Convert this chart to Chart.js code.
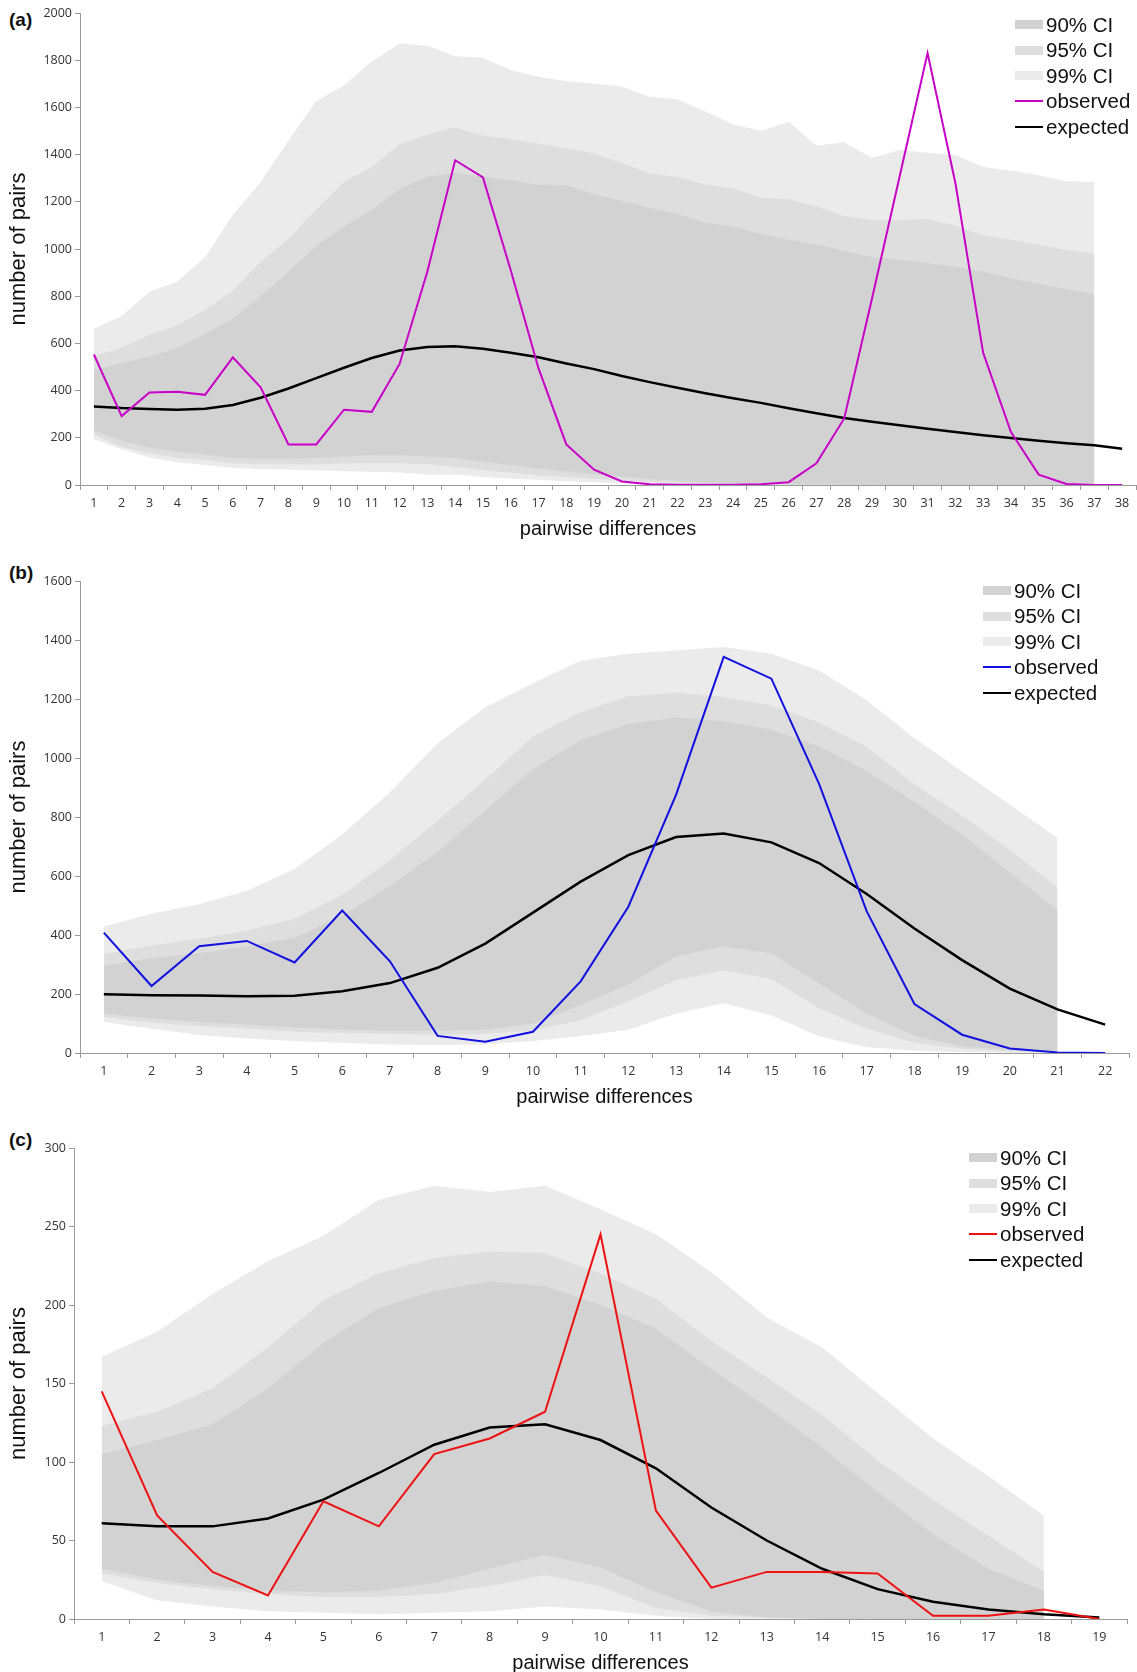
<!DOCTYPE html>
<html>
<head>
<meta charset="utf-8">
<script src="https://cdn.jsdelivr.net/npm/chart.js@4.4.1/dist/chart.umd.min.js"></script>
<style>
    body { margin: 0; width: 1137px; height: 1672px; overflow: hidden; background: #fff; position: relative; }
    canvas { position: absolute; left: 0; }
    .panel-tag { position: absolute; left: 9px; font: bold 19px "Liberation Sans", Arial, sans-serif; color: #111; }
    .legend { position: absolute; font: 20.5px "Liberation Sans", Arial, sans-serif; color: #111; }
    .legend div { height: 25.5px; display: flex; align-items: center; }
    .legend span.sw { display: inline-block; width: 28px; margin-right: 3px; }
</style>
</head>
<body>
<div class="panel-tag" style="top:9px">(a)</div>
<div class="panel-tag" style="top:562px">(b)</div>
<div class="panel-tag" style="top:1129px">(c)</div>
<canvas id="chartA" style="top:0px"></canvas>
<canvas id="chartB" style="top:560px"></canvas>
<canvas id="chartC" style="top:1130px"></canvas>
<div class="legend" id="legendA" style="left:1015px; top:12px"></div>
<div class="legend" id="legendB" style="left:983px; top:578px"></div>
<div class="legend" id="legendC" style="left:969px; top:1145px"></div>
<script>
// (a)
const aLabels = ['1', '2', '3', '4', '5', '6', '7', '8', '9', '10', '11', '12', '13', '14', '15', '16', '17', '18', '19',
    '20', '21', '22', '23', '24', '25', '26', '27', '28', '29', '30', '31', '32', '33', '34', '35', '36', '37', '38'];
const aObserved = [553, 292, 392, 395, 382, 541, 414, 172, 172, 319, 310, 513, 905, 1376, 1303, 910, 494, 172, 65,
    15, 3, 1, 1, 1, 3, 12, 92, 282, 790, 1310, 1830, 1280, 560, 224, 44, 4, 0, 0];
const aExpected = [333, 326, 322, 319, 323, 339, 370, 409, 453, 497, 538, 570, 585, 588, 577, 560, 541, 515, 491,
    462, 436, 412, 389, 368, 348, 325, 304, 284, 268, 253, 238, 225, 211, 199, 187, 177, 168, 154];
const a99Upper = [662, 716, 819, 862, 965, 1145, 1284, 1459, 1627, 1693, 1795, 1871, 1861, 1817, 1810, 1759, 1730, 1712, 1700,
    1689, 1645, 1635, 1583, 1529, 1500, 1539, 1437, 1452, 1386, 1420, 1408, 1398, 1347, 1332, 1313, 1287, 1284];
const a95Upper = [545, 582, 637, 677, 743, 823, 947, 1042, 1167, 1284, 1349, 1444, 1485, 1515, 1481, 1466, 1447, 1426, 1405,
    1364, 1320, 1306, 1273, 1257, 1218, 1211, 1181, 1140, 1123, 1123, 1127, 1097, 1057, 1039, 1018, 996, 981];
const a90Upper = [487, 516, 545, 582, 640, 706, 801, 904, 1013, 1094, 1167, 1254, 1306, 1323, 1306, 1291, 1272, 1269, 1232,
    1203, 1174, 1149, 1111, 1094, 1064, 1039, 1020, 991, 965, 955, 940, 925, 904, 877, 852, 830, 808];
const a90Lower = [231, 187, 158, 140, 129, 114, 111, 111, 114, 121, 126, 126, 121, 114, 99, 85, 70, 58, 45,
    35, 25, 18, 12, 8, 5, 3, 2, 1, 1, 0, 0, 0, 0, 0, 0, 0, 0];
const a95Lower = [213, 161, 136, 114, 107, 92, 88, 88, 88, 92, 92, 92, 88, 77, 63, 53, 41, 34, 26,
    19, 14, 10, 7, 5, 3, 2, 1, 1, 0, 0, 0, 0, 0, 0, 0, 0, 0];
const a99Lower = [194, 151, 117, 96, 85, 73, 67, 66, 63, 58, 56, 53, 44, 44, 34, 26, 22, 16, 12,
    8, 5, 3, 2, 1, 1, 0, 0, 0, 0, 0, 0, 0, 0, 0, 0, 0, 0];

// (b)
const bLabels = ['1', '2', '3', '4', '5', '6', '7', '8', '9', '10', '11', '12', '13', '14', '15', '16', '17', '18', '19',
    '20', '21', '22'];
const bObserved = [408, 227, 362, 380, 307, 483, 311, 58, 38, 72, 243, 496, 875, 1343, 1269, 912, 480, 166, 62, 15, 2, 0];
const bExpected = [199, 196, 195, 192, 194, 209, 237, 289, 371, 476, 581, 671, 732, 744, 714, 644, 539, 422, 315, 218, 148, 96];
const b99Upper = [429, 472, 504, 550, 624, 741, 884, 1050, 1172, 1254, 1330, 1353, 1364, 1376, 1353, 1297, 1196, 1067, 954, 842, 729];
const b95Upper = [336, 364, 387, 414, 455, 536, 653, 787, 927, 1073, 1155, 1209, 1221, 1207, 1178, 1120, 1038, 910, 805, 688, 562];
const b90Upper = [297, 321, 338, 362, 391, 466, 566, 682, 822, 962, 1061, 1114, 1137, 1125, 1096, 1040, 956, 851, 741, 612, 484];
const b90Lower = [134, 117, 105, 96, 87, 79, 76, 76, 79, 99, 163, 233, 327, 362, 338, 236, 134, 58, 23, 9, 3];
const b95Lower = [122, 103, 91, 84, 72, 68, 64, 61, 64, 76, 111, 175, 247, 280, 251, 152, 82, 35, 14, 5, 2];
const b99Lower = [105, 82, 61, 49, 41, 35, 29, 27, 29, 41, 58, 79, 134, 169, 128, 56, 20, 8, 3, 1, 0];

// (c)
const cLabels = ['1', '2', '3', '4', '5', '6', '7', '8', '9', '10', '11', '12', '13', '14', '15', '16', '17', '18', '19'];
const cObserved = [145, 66, 30, 15, 75, 59, 105, 115, 132, 245, 69, 20, 30, 30, 29, 2, 2, 6, 0];
const cExpected = [61, 59, 59, 64, 76, 93, 111, 122, 124, 114, 96, 71, 50, 32, 19, 11, 6, 3, 1];
const c99Upper = [167, 183, 207, 228, 244, 267, 276, 272, 276, 261, 245, 221, 192, 173, 144, 115, 91, 66];
const c95Upper = [123, 132, 147, 173, 203, 220, 230, 234, 233, 220, 204, 177, 154, 130, 101, 76, 53, 30];
const c90Upper = [105, 114, 124, 147, 176, 198, 209, 215, 212, 200, 185, 159, 135, 109, 81, 54, 32, 18];
const c90Lower = [32, 25, 21, 18, 17, 18, 23, 32, 41, 33, 17, 5, 1, 0, 0, 0, 0, 0];
const c95Lower = [29, 23, 19, 16, 14, 14, 16, 21, 28, 21, 7, 2, 1, 0, 0, 0, 0, 0];
const c99Lower = [24, 12, 8, 5, 4, 3, 4, 5, 8, 6, 2, 0, 0, 0, 0, 0, 0, 0];

const legendNames = ['90% CI', '95% CI', '99% CI', 'observed', 'expected'];

const C90 = '#d2d2d2';
const C95 = '#dedede';
const C99 = '#ebebeb';
const AXIS = '#9a9a9a';

function band(label, data, color, target, order) {
    return {
        label: label,
        data: data,
        fill: target === null ? false : { target: target },
        backgroundColor: color,
        borderColor: 'rgba(0,0,0,0)',
        borderWidth: 0,
        pointRadius: 0,
        order: order
    };
}

function renderPanel(id, labels, series, lineColor, yMax, step, leftWidth, padTop, padRight, height) {
    const canvas = document.getElementById(id);
    canvas.width = 1137;
    canvas.height = height;
    const ctx = canvas.getContext('2d');
    const tickFont = { family: 'Open Sans', size: 12.5 };

    new Chart(ctx, {
        type: 'line',
        data: {
            labels: labels,
            datasets: [
                { label: 'observed', data: series.obs, borderColor: lineColor, borderWidth: 2, pointRadius: 0, fill: false, order: 0 },
                { label: 'expected', data: series.exp, borderColor: '#000', borderWidth: 2.5, pointRadius: 0, fill: false, order: 1 },
                band('90% CI', series.u90, C90, 3, 2),
                band('90 low', series.l90, C90, null, 2),
                band('95% CI', series.u95, C95, 5, 3),
                band('95 low', series.l95, C95, null, 3),
                band('99% CI', series.u99, C99, 7, 4),
                band('99 low', series.l99, C99, null, 4)
            ]
        },
        options: {
            responsive: false,
            animation: false,
            layout: { padding: { top: padTop, right: padRight, left: 0, bottom: 0 } },
            plugins: {
                legend: { display: false },
                tooltip: { enabled: false }
            },
            scales: {
                x: {
                    type: 'category',
                    offset: true,
                    grid: { offset: true, drawOnChartArea: false, tickLength: 5, color: AXIS },
                    border: { color: AXIS },
                    ticks: { font: tickFont, color: '#333', padding: 6, maxRotation: 0, autoSkip: false },
                    title: { display: true, text: 'pairwise differences', font: { family: 'Liberation Sans', size: 20 }, color: '#111', padding: { top: 0, bottom: 4 } },
                    afterFit: function (scale) { scale.height = 60; }
                },
                y: {
                    min: 0,
                    max: yMax,
                    grid: { drawOnChartArea: false, tickLength: 5, color: AXIS },
                    border: { color: AXIS },
                    ticks: { stepSize: step, font: tickFont, color: '#333', padding: 3, callback: v => String(v) },
                    title: { display: true, text: 'number of pairs', font: { family: 'Liberation Sans', size: 22 }, color: '#111', padding: { top: 6, bottom: 0 } },
                    afterFit: function (scale) { scale.width = leftWidth; }
                }
            }
        }
    });
}

function fillLegend(id, lineColor) {
    const box = document.getElementById(id);
    const swatches = [
        'height:9px;background:' + C90,
        'height:9px;background:' + C95,
        'height:9px;background:' + C99,
        'height:2px;background:' + lineColor,
        'height:2.5px;background:#000'
    ];
    for (let i = 0; i < legendNames.length; i++) {
        box.insertAdjacentHTML('beforeend',
            `<div><span class="sw" style="${swatches[i]}"></span>${legendNames[i]}</div>`);
    }
}

renderPanel('chartA', aLabels, {
    obs: aObserved, exp: aExpected, u90: a90Upper, l90: a90Lower,
    u95: a95Upper, l95: a95Lower, u99: a99Upper, l99: a99Lower
}, '#c800c8', 2000, 200, 80, 13, 1, 545);

renderPanel('chartB', bLabels, {
    obs: bObserved, exp: bExpected, u90: b90Upper, l90: b90Lower,
    u95: b95Upper, l95: b95Lower, u99: b99Upper, l99: b99Lower
}, '#1010e0', 1600, 200, 80, 21, 8, 553);

renderPanel('chartC', cLabels, {
    obs: cObserved, exp: cExpected, u90: c90Upper, l90: c90Lower,
    u95: c95Upper, l95: c95Lower, u99: c99Upper, l99: c99Lower
}, '#ee1111', 300, 50, 74, 18, 10, 549);

fillLegend('legendA', '#c800c8');
fillLegend('legendB', '#1010e0');
fillLegend('legendC', '#ee1111');
</script>
</body>
</html>
